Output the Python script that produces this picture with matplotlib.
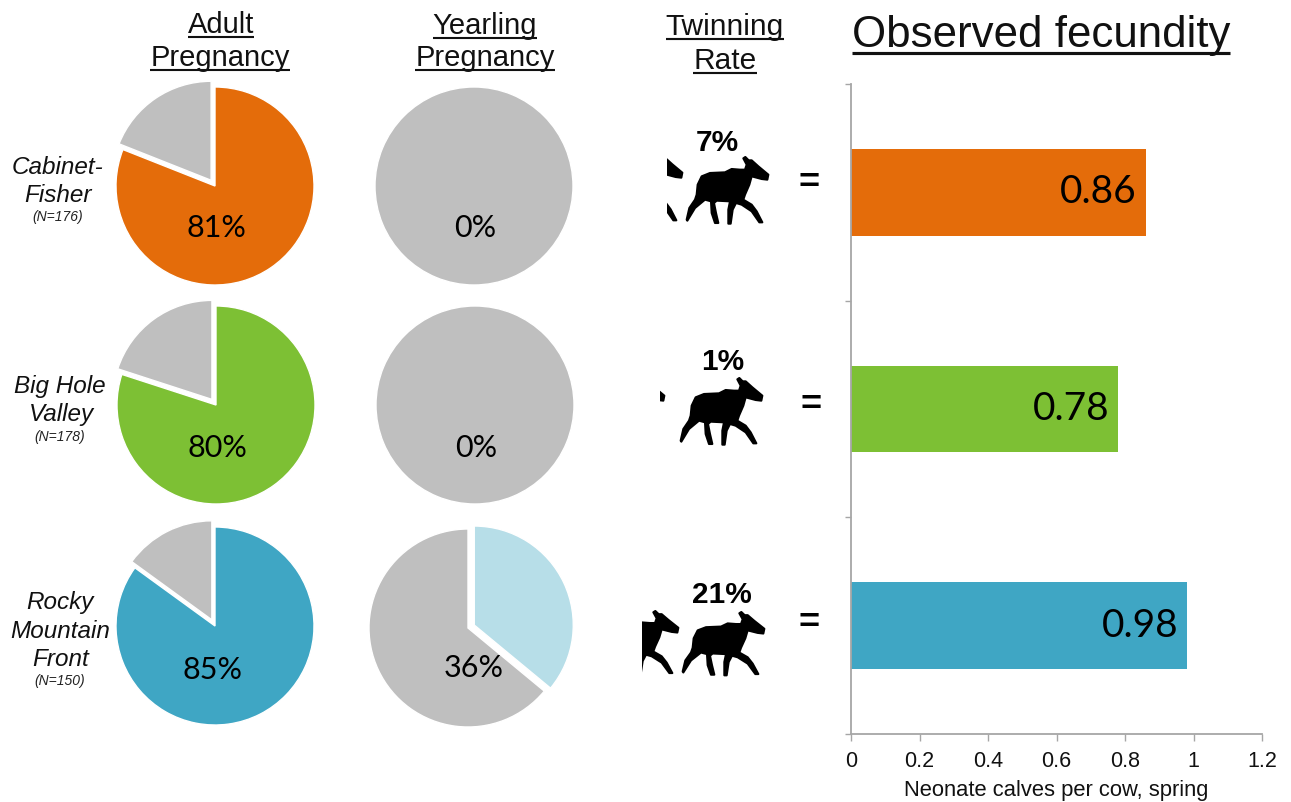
import matplotlib
matplotlib.use("Agg")
import matplotlib.pyplot as plt
from matplotlib.patches import Polygon, Rectangle

W, H = 1291, 802

# data
regions = ["Cabinet-\nFisher", "Big Hole\nValley", "Rocky\nMountain\nFront"]
sample_sizes = ["(N=176)", "(N=178)", "(N=150)"]
adult_preg = [81, 80, 85]
yearling_preg = [0, 0, 36]
twinning = ["7%", "1%", "21%"]
fecundity = [0.86, 0.78, 0.98]
colors = ["#E46C0A", "#7DC034", "#3FA6C4"]
light_blue = "#B7DEE8"
gray = "#BFBFBF"
xticks = [0, 0.2, 0.4, 0.6, 0.8, 1, 1.2]
xticklabels = ["0", "0.2", "0.4", "0.6", "0.8", "1", "1.2"]

# moose outline (pixels, snout is roughly at 415,170)
moose_x = [415, 412, 395, 365, 358, 345, 340, 365, 380, 397, 388, 365, 335, 318, 308, 302, 295, 295, 300,
           260, 252, 258, 265, 255, 245, 243, 225, 195, 172, 170, 178, 195, 200, 203, 215, 240, 285, 305,
           330, 345, 350, 340, 346, 356, 365, 385]
moose_y = [165, 180, 178, 170, 195, 225, 240, 255, 275, 308, 308, 275, 255, 250, 270, 312, 312, 270, 245,
           243, 250, 280, 310, 310, 280, 245, 240, 265, 303, 300, 265, 240, 225, 195, 170, 160, 158, 148,
           150, 150, 135, 116, 112, 122, 122, 140]

plt.rcParams['font.family'] = ['Liberation Sans', 'DejaVu Sans']
fig = plt.figure(figsize=(W / 100, H / 100), dpi=100)


def pie_at(cx, cy, r, vals, cols, explode):
    # box is 2.4 radius wide so an exploded slice is not cut
    s = 2.4 * r
    ax = fig.add_axes([(cx - s / 2) / W, 1 - (cy + s / 2) / H, s / W, s / H])
    ax.pie(vals, colors=cols, explode=explode, startangle=90, counterclock=False, radius=1,
           wedgeprops={'edgecolor': 'white', 'linewidth': 1})
    ax.set_xlim(-1.2, 1.2)
    ax.set_ylim(-1.2, 1.2)
    return ax


# adult pregnancy
adult_xy = [(215, 186), (216, 405), (215, 626)]
adult_lbl = [(216, 228), (217, 448), (213, 670)]
for i in range(3):
    cx, cy = adult_xy[i]
    pie_at(cx, cy, 99, [adult_preg[i], 100 - adult_preg[i]], [colors[i], gray], [0, 0.07])

# yearling pregnancy
year_xy = [(474, 186), (475, 405), (468, 628)]
year_lbl = [(475, 228), (476, 448), (474, 668)]
for i in range(3):
    cx, cy = year_xy[i]
    pie_at(cx, cy, 99, [yearling_preg[i], 100 - yearling_preg[i]], [light_blue, gray], [0.07, 0])

# bars
bx = fig.add_axes([851 / W, 1 - 734 / H, (1262 - 851) / W, (734 - 84) / H])
bx.barh([2, 1, 0], fecundity, height=0.4, color=colors)
bx.set_xlim(0, 1.2)
bx.set_ylim(-0.5, 2.5)
bx.set_yticks([-0.5, 0.5, 1.5, 2.5])
bx.set_yticklabels([])
bx.set_xticks(xticks)
bx.set_xticklabels(xticklabels, fontsize=15.5, color='#111111')
bx.set_xlabel("Neonate calves per cow, spring", fontsize=15.8, labelpad=6, color='#111111')
for s in ['top', 'right']:
    bx.spines[s].set_visible(False)
for s in ['left', 'bottom']:
    bx.spines[s].set_color('#A6A6A6')
    bx.spines[s].set_linewidth(1.3)
bx.tick_params(axis='y', color='#A6A6A6', length=4, width=1)
bx.tick_params(axis='x', color='#A6A6A6', length=5, width=1, pad=7)
for v, y in zip(fecundity, [2, 1, 0]):
    bx.text(v - 0.025, y, f"{v:.2f}", ha='right', va='center', fontsize=28, family=['Lato', 'DejaVu Sans'])

# overlay in pixel coordinates for text and silhouettes
ov = fig.add_axes([0, 0, 1, 1], zorder=5)
ov.set_xlim(0, W)
ov.set_ylim(H, 0)
ov.axis('off')
ov.patch.set_alpha(0)

for i in range(3):
    x, y = adult_lbl[i]
    ov.text(x, y, f"{adult_preg[i]}%", ha='center', va='center', fontsize=22, family=['Lato', 'DejaVu Sans'])
    x, y = year_lbl[i]
    ov.text(x, y, f"{yearling_preg[i]}%", ha='center', va='center', fontsize=22, family=['Lato', 'DejaVu Sans'])


def underlined(cx, base, s, size, gap):
    t = ov.text(cx, base, s, ha='center', va='baseline', fontsize=size, color='#111111')
    fig.canvas.draw()
    bb = t.get_window_extent()
    ov.plot([bb.x0, bb.x1], [base + gap, base + gap], color='#111111', lw=size / 14, solid_capstyle='butt')


underlined(221, 33, "Adult", 21, 4)
underlined(220, 66, "Pregnancy", 21, 4)
underlined(485, 34, "Yearling", 21, 4)
underlined(485, 66, "Pregnancy", 21, 4)
underlined(725, 35, "Twinning", 21.5, 4)
underlined(725, 69, "Rate", 21.5, 4)
underlined(1041, 47, "Observed fecundity", 31.6, 6)

# row labels
label_rows = [[(58, 167), (58, 195)], [(60, 386), (61, 415)], [(60, 603), (60, 631), (61, 659)]]
n_xy = [(58, 217), (60, 437), (60, 681)]
for i in range(3):
    for line, (x, y) in zip(regions[i].split("\n"), label_rows[i]):
        ov.text(x, y, line, ha='center', va='center', fontsize=17.5, style='italic', color='#111111')
    ov.text(n_xy[i][0], n_xy[i][1], sample_sizes[i], ha='center', va='center', fontsize=10, style='italic',
            color='#222222')


def moose(dx, dy, sy=1.0, clip=None):
    pts = [(630 + a / 3 + dx, 157 + (b - 112) / 3 * sy + dy) for a, b in zip(moose_x, moose_y)]
    p = Polygon(pts, closed=True, facecolor='black', edgecolor='black', lw=1.5, joinstyle='round')
    ov.add_patch(p)
    if clip is not None:
        r = Rectangle((clip, 0), W, H, transform=ov.transData)
        p.set_clip_path(r)


moose(0, 0)
moose(-86, -2, clip=667)
moose(-6, 221)
moose(-104, 221, clip=660)
moose(-4, 455, 0.95)
moose(-90, 454, 0.95, clip=642)

tw_xy = [(717, 143), (723, 362), (722, 595)]
eq_xy = [(809, 184), (811, 405), (809, 624)]
for i in range(3):
    ov.text(tw_xy[i][0], tw_xy[i][1], twinning[i], ha='center', va='center', fontsize=21.5, weight='bold')
    ov.text(eq_xy[i][0], eq_xy[i][1], "=", ha='center', va='center', fontsize=26, weight='bold')

fig.savefig("out.png", dpi=100)
